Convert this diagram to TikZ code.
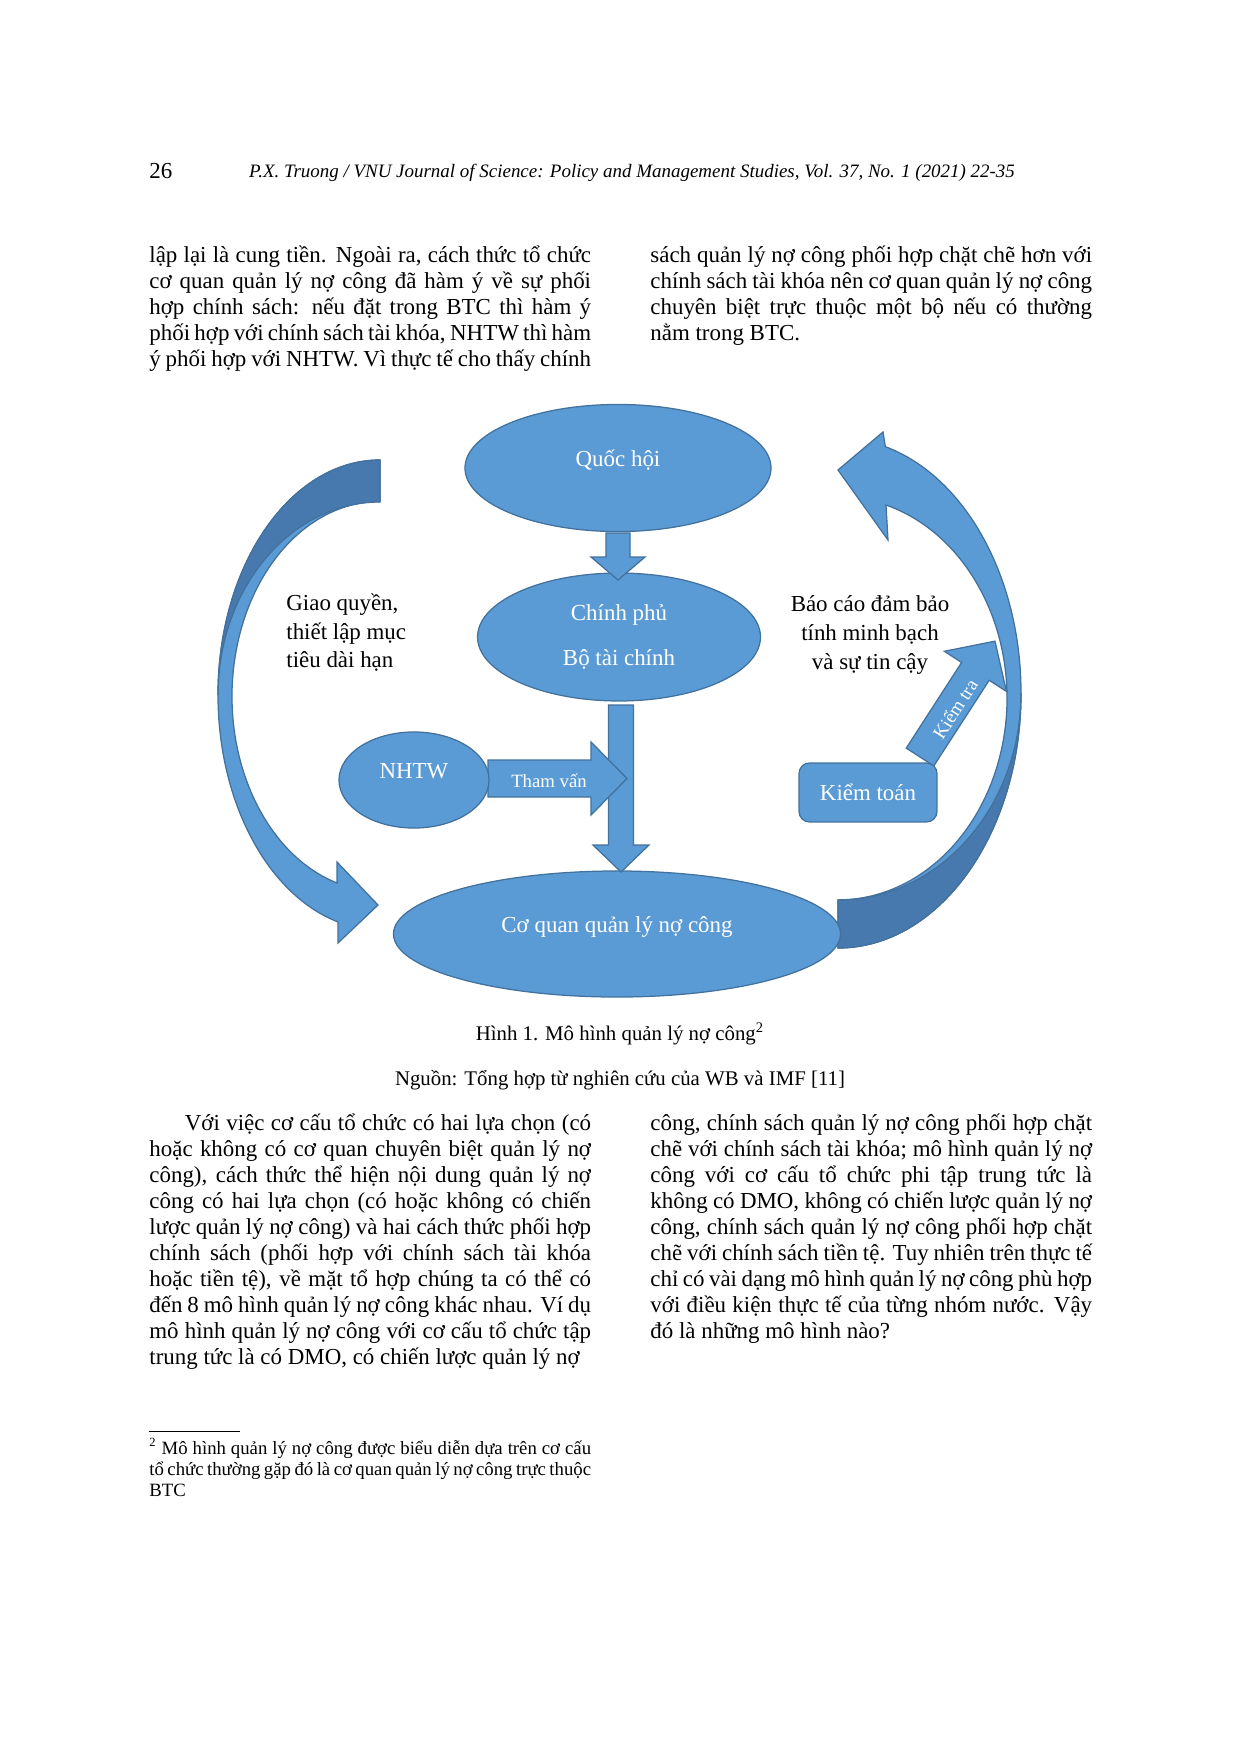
\documentclass[tikz,border=0pt]{standalone}
\usepackage{fontspec}
\setmainfont{Liberation Serif}
\usetikzlibrary{shapes.geometric}

\hyphenpenalty=10000
\exhyphenpenalty=10000
\tolerance=10000

\definecolor{officeblue}{RGB}{91,155,213}
\definecolor{officeedge}{RGB}{65,113,156}
\definecolor{officedark}{RGB}{72,121,174}

\tikzset{
  blob/.style={ellipse, draw=officeedge, fill=officeblue, line width=0.6pt,
    text=white, font=\fontsize{11}{13.5}\selectfont, inner sep=1pt},
  lifted/.style={text height=8pt, text depth=9.8pt},
  band/.style={draw=officeedge, fill=officeblue, line width=0.6pt},
  bandback/.style={draw=officeedge, fill=officedark, line width=0.6pt},
  arrowlabel/.style={text=white, inner sep=0pt, font=\fontsize{9}{10}\selectfont},
  sidelabel/.style={inner sep=0pt, font=\fontsize{11}{13.7}\selectfont},
  bodytext/.style={anchor=base west, inner sep=0pt, text width=212pt, align=justify,
    font=\fontsize{11}{12.53}\selectfont},
  caption/.style={anchor=base, inner sep=0pt, font=\fontsize{10}{12}\selectfont}
}

% block arrow: tail, angle, length, shaft half width, head half width, head length
\newcommand{\blockarr}[6]{%
  \begin{scope}[shift={#1}, rotate=#2]
    \draw[band, line join=miter] (0,-#4) -- ({#3-#6},-#4) -- ({#3-#6},-#5) -- (#3,0)
      -- ({#3-#6},#5) -- ({#3-#6},#4) -- (0,#4) -- cycle;
  \end{scope}}

\begin{document}
\begin{tikzpicture}[x=0.48pt, y=-0.48pt]
  \useasboundingbox[fill=white] (0,0) rectangle (1240,1754);

  % Header
  \node[anchor=base west, inner sep=0pt, font=\fontsize{11}{13}\selectfont] (pageno) at (149,178) {26};
  \node[anchor=base, inner sep=0pt, font=\fontsize{9.1}{11}\selectfont\itshape] (runhead) at (632,177)
    {P.X. Truong / VNU Journal of Science: Policy and Management Studies, Vol. 37, No. 1 (2021) 22-35};

  % Text above the figure
  \node[bodytext] (topleft) at (149,262) {\parfillskip=0pt
    lập lại là cung tiền. Ngoài ra, cách thức tổ chức\linebreak
    cơ quan quản lý nợ công đã hàm ý về sự phối\linebreak
    hợp chính sách: nếu đặt trong BTC thì hàm ý\linebreak
    phối hợp với chính sách tài khóa, NHTW thì hàm\linebreak
    ý phối hợp với NHTW. Vì thực tế cho thấy chính};
  \node[bodytext] (topright) at (650,262) {%
    sách quản lý nợ công phối hợp chặt chẽ hơn với\linebreak
    chính sách tài khóa nên cơ quan quản lý nợ công\linebreak
    chuyên biệt trực thuộc một bộ nếu có thường\linebreak
    nằm trong BTC.};

  % Curved arrows
  \draw[band] (380,460) arc[start angle=270, end angle=105, x radius=162, y radius=235]
    -- (338,943) -- (378,905) -- (337,862) -- (337,883)
    arc[start angle=106.9, end angle=270, x radius=148, y radius=195] -- cycle;
  \draw[bandback] (380,460) arc[start angle=270, end angle=180, x radius=162, y radius=235]
    arc[start angle=180, end angle=270, x radius=162, y radius=193] -- cycle;

  \draw[band] (838,948) arc[start angle=90, end angle=-75, x radius=183, y radius=255]
    -- (883,432) -- (838,470) -- (888,540) -- (886,505)
    arc[start angle=-73.5, end angle=90, x radius=169, y radius=201.6] -- cycle;
  \draw[bandback] (838,948) arc[start angle=90, end angle=0, x radius=183, y radius=255]
    arc[start angle=0, end angle=90, x radius=183, y radius=207] -- cycle;

  % Ellipses
  \node[blob, lifted, minimum width=146.9pt, minimum height=61pt] (quochoi) at (618,468) {Quốc hội};
  \node[blob, align=center, minimum width=135.8pt, minimum height=61.4pt] (chinhphu) at (619,637)
    {Chính phủ\\[8pt]Bộ tài chính};
  \node[blob, lifted, minimum width=214.6pt, minimum height=60.5pt] (coquan) at (617,934)
    {Cơ quan quản lý nợ công};

  % Straight arrows
  \blockarr{(618,533)}{-90}{47}{12}{27}{23}
  \blockarr{(621,705)}{-90}{167}{12.5}{28}{27}
  \blockarr{(488,778.5)}{0}{139}{18.5}{36.5}{36}
  \blockarr{(920,757)}{57.1}{138}{16.4}{37}{36}

  \node[blob, lifted, minimum width=72pt, minimum height=46.1pt] (nhtw) at (414,780) {NHTW};
  \node[draw=officeedge, fill=officeblue, line width=0.6pt, rounded corners=5pt, text=white,
    font=\fontsize{11}{13.5}\selectfont, minimum width=66.2pt, minimum height=28.3pt] (kiemtoan)
    at (868,792.5) {Kiểm toán};

  % Arrow labels
  \node[arrowlabel] (thamvan) at (549,781) {Tham vấn};
  \node[arrowlabel, rotate=57.1] (kiemtra) at (955,709) {Kiểm tra};

  % Side labels
  \node[sidelabel, anchor=west, align=left] (giaoquyen) at (286,633)
    {Giao quyền,\\thiết lập mục\\tiêu dài hạn};
  \node[sidelabel, align=center] (baocao) at (870,635)
    {Báo cáo đảm bảo\\tính minh bạch\\và sự tin cậy};

  % Caption
  \node[caption] (hinh) at (620,1040) {Hình 1. Mô hình quản lý nợ công\textsuperscript{2}};
  \node[caption] (nguon) at (620,1085) {Nguồn: Tổng hợp từ nghiên cứu của WB và IMF [11]};

  % Text below the figure
  \node[bodytext] (botleft) at (149,1130) {\parfillskip=0pt
    \hspace*{17pt}Với việc cơ cấu tổ chức có hai lựa chọn (có\linebreak
    hoặc không có cơ quan chuyên biệt quản lý nợ\linebreak
    công), cách thức thể hiện nội dung quản lý nợ\linebreak
    công có hai lựa chọn (có hoặc không có chiến\linebreak
    lược quản lý nợ công) và hai cách thức phối hợp\linebreak
    chính sách (phối hợp với chính sách tài khóa\linebreak
    hoặc tiền tệ), về mặt tổ hợp chúng ta có thể có\linebreak
    đến 8 mô hình quản lý nợ công khác nhau. Ví dụ\linebreak
    mô hình quản lý nợ công với cơ cấu tổ chức tập\linebreak
    trung tức là có DMO, có chiến lược quản lý nợ};
  \node[bodytext] (botright) at (650,1130) {%
    công, chính sách quản lý nợ công phối hợp chặt\linebreak
    chẽ với chính sách tài khóa; mô hình quản lý nợ\linebreak
    công với cơ cấu tổ chức phi tập trung tức là\linebreak
    không có DMO, không có chiến lược quản lý nợ\linebreak
    công, chính sách quản lý nợ công phối hợp chặt\linebreak
    chẽ với chính sách tiền tệ. Tuy nhiên trên thực tế\linebreak
    chỉ có vài dạng mô hình quản lý nợ công phù hợp\linebreak
    với điều kiện thực tế của từng nhóm nước. Vậy\linebreak
    đó là những mô hình nào?};

  % Footnote
  \draw[line width=0.4pt] (149,1431) -- (240,1431);
  \node[bodytext, font=\fontsize{9}{10.1}\selectfont] (footnote) at (149,1454) {%
    \textsuperscript{2} Mô hình quản lý nợ công được biểu diễn dựa trên cơ cấu\linebreak
    tổ chức thường gặp đó là cơ quan quản lý nợ công trực thuộc\linebreak
    BTC};
\end{tikzpicture}
\end{document}
